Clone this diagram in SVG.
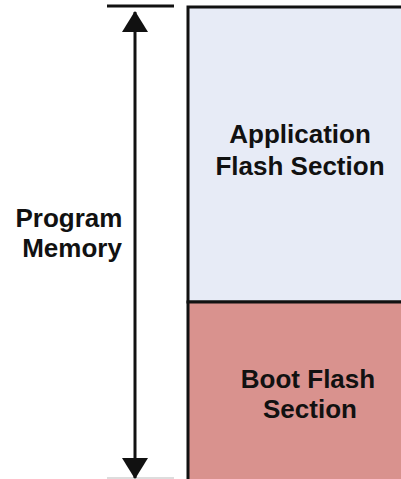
<svg xmlns="http://www.w3.org/2000/svg" width="401" height="479" viewBox="0 0 401 479">
<style>
.t{font-family:"Liberation Sans",Arial,sans-serif;font-weight:bold;font-size:26px;fill:#111;text-anchor:middle}
.ln{stroke:#111;fill:none}
</style>
<defs>
<marker id="ah" viewBox="0 0 21 26" refX="20" refY="13" markerWidth="21" markerHeight="26" markerUnits="userSpaceOnUse" orient="auto">
<path d="M0,0 L21,13 L0,26 Z" fill="#111"/>
</marker>
</defs>
<rect width="401" height="479" fill="#fff"/>
<g id="app">
<rect x="188" y="7" width="215" height="295" fill="#e7ebf6" stroke="#111" stroke-width="3"/>
<text class="t" x="300" y="143">Application</text>
<text class="t" x="300" y="175">Flash Section</text>
</g>
<g id="boot">
<rect x="188" y="302" width="215" height="180" fill="#d9928e" stroke="#111" stroke-width="3"/>
<text class="t" x="308" y="388">Boot Flash</text>
<text class="t" x="310" y="418">Section</text>
</g>
<g id="label">
<text class="t" x="69" y="227">Program</text>
<text class="t" x="72" y="257">Memory</text>
</g>
<g id="connectors">
<line class="ln" x1="107" y1="6" x2="174" y2="6" stroke-width="3"/>
<line x1="107" y1="478" x2="174" y2="478" stroke="#bbb" stroke-width="1"/>
<line class="ln" x1="135" y1="245" x2="135" y2="12" stroke-width="3" marker-end="url(#ah)"/>
<line class="ln" x1="135" y1="245" x2="135" y2="478" stroke-width="3" marker-end="url(#ah)"/>
</g>
</svg>
